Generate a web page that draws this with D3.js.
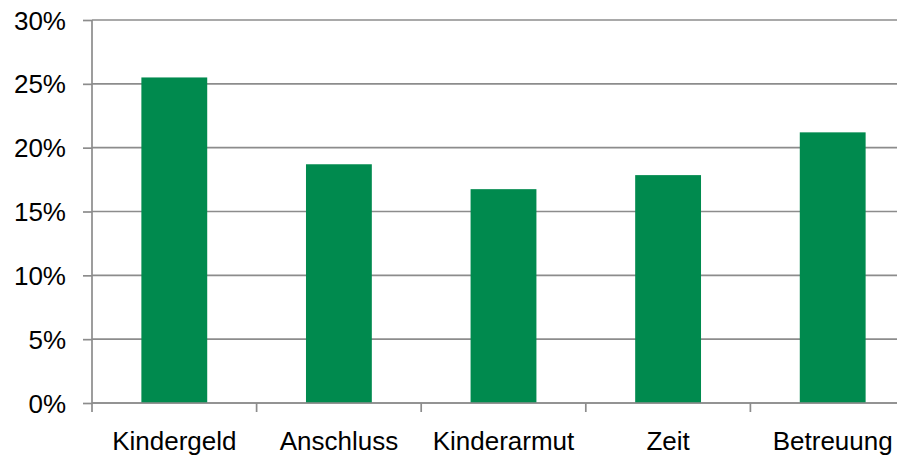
<!DOCTYPE html>
<html>
<head>
<meta charset="utf-8">
<script src="https://cdn.jsdelivr.net/npm/d3@7"></script>
<style>
  body { margin: 0; background: #fff; }
  svg text { font-family: "Liberation Sans", Arial, sans-serif; fill: #000; }
</style>
</head>
<body>
<svg id="chart" width="897" height="462"></svg>
<script>
var categories = ["Kindergeld", "Anschluss", "Kinderarmut", "Zeit", "Betreuung"];
var shares = [0.255, 0.187, 0.1675, 0.1785, 0.212];
var yTicks = [0, 0.05, 0.10, 0.15, 0.20, 0.25, 0.30];

var svg = d3.select("#chart");
var plotLeft = 92, plotRight = 915, plotTop = 20, plotBottom = 403;
var grey = "#8c8c8c";

var x = d3.scaleBand()
	.domain(categories)
	.range([plotLeft, plotRight])
	.paddingInner(0.6)
	.paddingOuter(0.3);

var y = d3.scaleLinear()
	.domain([0, 0.30])
	.range([plotBottom, plotTop]);

// gridlines
svg.append("g")
	.selectAll("line")
	.data(yTicks)
	.enter()
	.append("line")
	.attr("x1", plotLeft)
	.attr("x2", plotRight)
	.attr("y1", function(d){ return y(d); })
	.attr("y2", function(d){ return y(d); })
	.attr("stroke", grey)
	.attr("stroke-width", 1.7);

// bars
svg.append("g")
	.selectAll("rect")
	.data(categories)
	.enter()
	.append("rect")
	.attr("x", function(d){ return x(d); })
	.attr("width", x.bandwidth())
	.attr("y", function(d, i){ return y(shares[i]); })
	.attr("height", function(d, i){ return plotBottom - y(shares[i]); })
	.attr("fill", "#008a4e");

// y axis
var yAxis = svg.append("g")
	.attr("transform", "translate(" + plotLeft + ",0)")
	.call(d3.axisLeft(y).tickValues(yTicks).tickFormat(d3.format(".0%")).tickSize(9).tickPadding(17));
yAxis.selectAll("path, line").attr("stroke", grey).attr("stroke-width", 1.7);
yAxis.selectAll("text").attr("font-size", 26).attr("dy", "0.35em");
yAxis.select(".domain").attr("d", "M0," + plotTop + "V" + plotBottom);

// x axis: labels centered, ticks on category boundaries
var xAxis = svg.append("g")
	.attr("transform", "translate(0," + plotBottom + ")")
	.call(d3.axisBottom(x).tickSize(0).tickPadding(47));
xAxis.select(".domain").attr("d", "M" + plotLeft + ",0H" + plotRight).attr("stroke", grey).attr("stroke-width", 1.7);
xAxis.selectAll("text").attr("font-size", 26).attr("dy", 0);

var bounds = d3.range(categories.length + 1).map(function(i){ return plotLeft + i * x.step(); });
xAxis.selectAll(".bound")
	.data(bounds)
	.enter()
	.append("line")
	.attr("class", "bound")
	.attr("x1", function(d){ return d; })
	.attr("x2", function(d){ return d; })
	.attr("y1", 0)
	.attr("y2", 9)
	.attr("stroke", grey)
	.attr("stroke-width", 1.7);
</script>
</body>
</html>
